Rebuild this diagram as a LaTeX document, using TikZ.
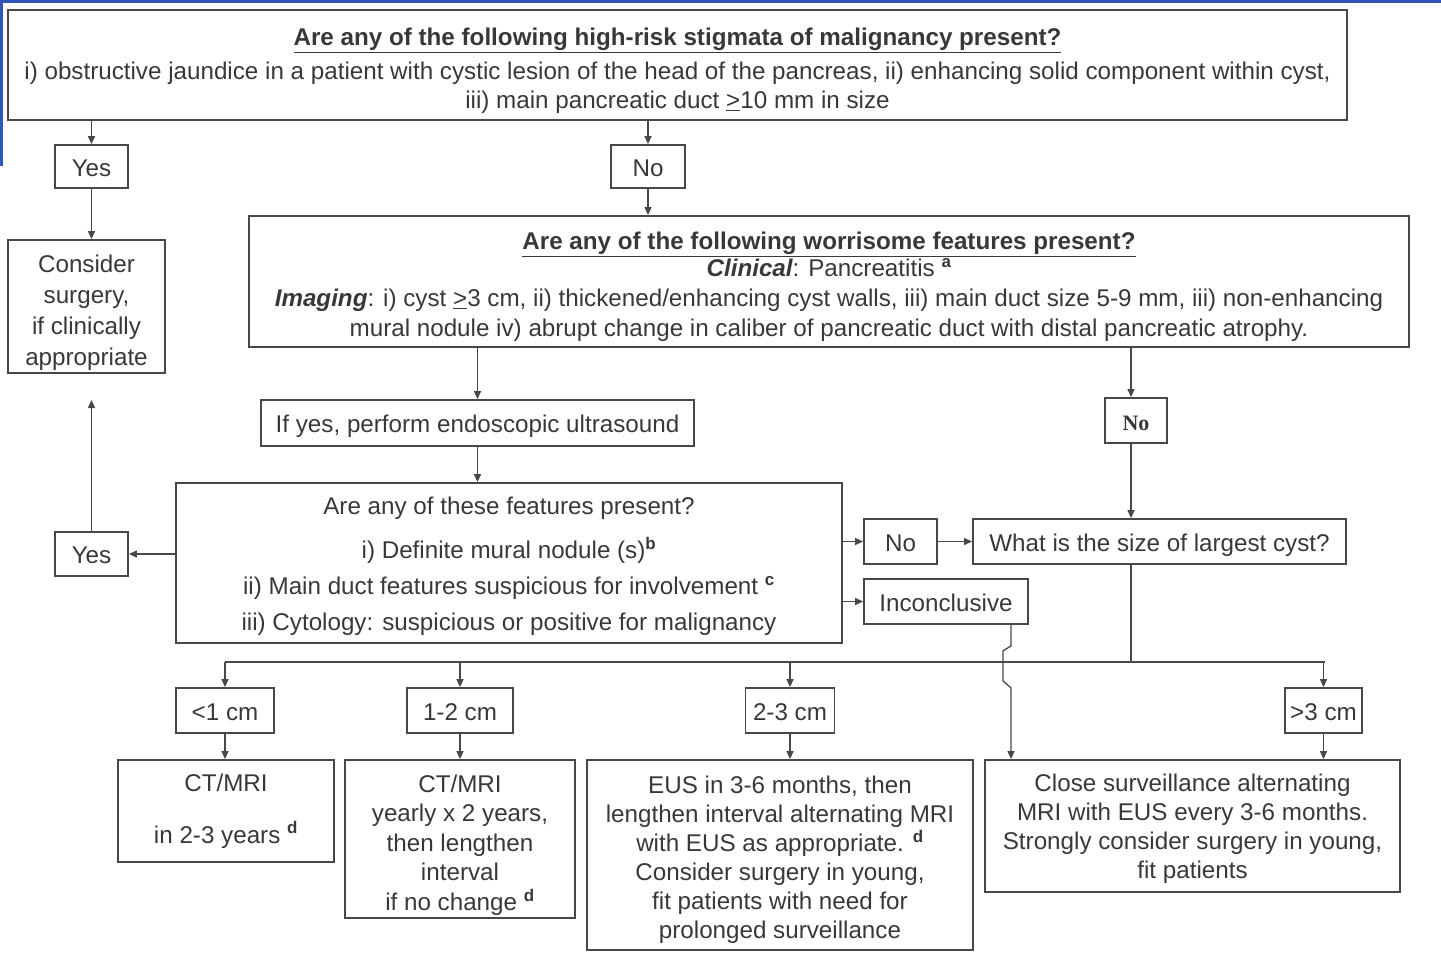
\documentclass[tikz,border=0pt]{standalone}
\usepackage{fontspec}
\setmainfont{Liberation Sans}
\newfontfamily\serifno{Liberation Serif}
\usetikzlibrary{arrows.meta}

\definecolor{ink}{HTML}{383838}
\definecolor{frame}{HTML}{484848}
\definecolor{slideblue}{HTML}{2F55B8}

\newcommand\bodytext{\fontsize{24.2}{29.5}\selectfont}
\newcommand\sups[1]{\textsuperscript{\bfseries #1}}
\newcommand\geqline{\underline{>}}
% invisible strut that sets the height of a first line
\newcommand\padtop[1]{\rule{0pt}{#1pt}}

\begin{document}
\begin{tikzpicture}[x=1pt,y=-1pt,
  box/.style={draw=frame,line width=1.8pt,inner sep=0pt,align=center,
              text=ink,font=\bodytext},
  one/.style={text height=21pt,text depth=2pt},
  conn/.style={draw=frame,line width=1.3pt},
  arr/.style={conn,-{Triangle[length=8pt,width=7pt]}},
]
\useasboundingbox (0,0) rectangle (1441,953);

% slide frame accents
\fill[slideblue] (0,0) rectangle (1441,3);
\fill[slideblue] (0,0) rectangle (3,166);

% high-risk stigmata
\node[box,minimum width=1339,minimum height=110] (risk) at (677.5,65)
  {\padtop{30}{\bfseries\underline{Are any of the following high-risk stigmata of malignancy present?}}\\[4pt]
   i) obstructive jaundice in a patient with cystic lesion of the head of the pancreas, ii) enhancing solid component within cyst,\\
   iii) main pancreatic duct \geqline10 mm in size};

\node[box,one,minimum width=73,minimum height=43] (yes1) at (91.5,166.5) {Yes};
\node[box,one,minimum width=74,minimum height=43] (no1) at (648,166.5) {No};

\node[box,minimum width=157,minimum height=133,font=\fontsize{24.2}{31}\selectfont] (consider) at (86.5,306.5)
  {\padtop{30}Consider\\surgery,\\if clinically\\appropriate};

% worrisome features
\node[box,minimum width=1160,minimum height=131,font=\fontsize{24.2}{30}\selectfont] (worry) at (829,281.5)
  {\padtop{28}{\bfseries\underline{Are any of the following worrisome features present?}}\\[-3pt]
   {\bfseries\itshape Clinical}: Pancreatitis \sups{a}\\
   {\bfseries\itshape Imaging}: i) cyst \geqline3 cm, ii) thickened/enhancing cyst walls, iii) main duct size 5-9 mm, iii) non-enhancing\\
   mural nodule iv) abrupt change in caliber of pancreatic duct with distal pancreatic atrophy.};

\node[box,one,minimum width=433,minimum height=46] (eus) at (477.5,423)
  {If yes, perform endoscopic ultrasound};

\node[box,minimum width=666,minimum height=160,font=\fontsize{24.2}{36}\selectfont] (feat) at (509,563)
  {\padtop{24}Are any of these features present?\\[8pt]
   i) Definite mural nodule (s)\sups{b}\\
   ii) Main duct features suspicious for involvement \sups{c}\\
   iii) Cytology: suspicious or positive for malignancy};

\node[box,one,minimum width=73,minimum height=44] (yes2) at (91.5,554) {Yes};
\node[box,one,minimum width=73,minimum height=45] (no2) at (900.5,541.5) {No};
\node[box,one,minimum width=373,minimum height=45] (cyst) at (1159.5,541.5)
  {What is the size of largest cyst?};
\node[box,one,minimum width=164,minimum height=45] (incon) at (946,601.5) {Inconclusive};
\node[box,one,minimum width=62,minimum height=45,font=\serifno\bfseries\fontsize{22}{26}\selectfont] (no3) at (1136,420.5) {No};

% cyst size classes
\node[box,one,minimum width=98,minimum height=45] (s1) at (225,710.5) {<1 cm};
\node[box,one,minimum width=106,minimum height=45] (s2) at (460,710.5) {1-2 cm};
\node[box,one,minimum width=89,minimum height=45] (s3) at (790,710.5) {2-3 cm};
\node[box,one,minimum width=77,minimum height=45] (s4) at (1323.5,710.5) {>3 cm};

% follow-up recommendations
\node[box,minimum width=216,minimum height=102] (b1) at (226,811)
  {CT/MRI\\[22pt]in 2-3 years \sups{d}};
\node[box,minimum width=230,minimum height=158] (b2) at (460,839)
  {\padtop{30}CT/MRI\\yearly x 2 years,\\then lengthen\\interval\\if no change \sups{d}};
\node[box,minimum width=386,minimum height=190,font=\fontsize{24.2}{29}\selectfont] (b3) at (780,855)
  {\padtop{28}EUS in 3-6 months, then\\lengthen interval alternating MRI\\with EUS as appropriate. \sups{d}\\
   Consider surgery in young,\\fit patients with need for\\prolonged surveillance};
\node[box,minimum width=415,minimum height=132,font=\fontsize{24.2}{29}\selectfont] (b4) at (1192.5,826)
  {\padtop{24}Close surveillance alternating\\MRI with EUS every 3-6 months.\\Strongly consider surgery in young,\\fit patients};

% routing helpers
\coordinate (rx) at (1131,0);
\coordinate (jx) at (1011,0);
\coordinate (busL) at (225,662);
\coordinate (busR) at (1325,662);
\coordinate (upend) at (91.5,400);

% connectors
\draw[arr] (yes1 |- risk.south) -- (yes1.north);
\draw[arr] (no1 |- risk.south) -- (no1.north);
\draw[arr] (yes1.south) -- (yes1.south |- consider.north);
\draw[arr] (no1.south) -- (no1.south |- worry.north);
\draw[arr] (eus.north |- worry.south) -- (eus.north);
\draw[arr] (eus.south) -- (eus.south |- feat.north);
\draw[arr] (feat.west |- yes2) -- (yes2.east);
\draw[arr] (yes2.north) -- (upend);
\draw[arr] (feat.east |- no2) -- (no2.west);
\draw[arr] (no2.east) -- (cyst.west);
\draw[arr] (feat.east |- incon) -- (incon.west);
\draw[arr] (rx |- worry.south) -- (rx |- no3.north);
\draw[arr] (rx |- no3.south) -- (rx |- cyst.north);
\draw[conn] (rx |- cyst.south) -- (rx |- busL);
\draw[conn] (busL) -- (busR);
\draw[arr] (busL) -- (s1.north);
\draw[arr] (s2 |- busL) -- (s2.north);
\draw[arr] (s3 |- busL) -- (s3.north);
\draw[arr] (s4 |- busL) -- (s4.north);
\draw[arr] (s1.south) -- (s1.south |- b1.north);
\draw[arr] (s2.south) -- (s2.south |- b2.north);
\draw[arr] (s3.south) -- (s3.south |- b3.north);
\draw[arr] (s4.south) -- (s4.south |- b4.north);
% inconclusive path hops over the size bus
\draw[arr] (jx |- incon.south) -- ++(0,21) -- ++(-8,5) -- ++(0,30) -- ++(8,7) -- (jx |- b4.north);
\end{tikzpicture}
\end{document}
